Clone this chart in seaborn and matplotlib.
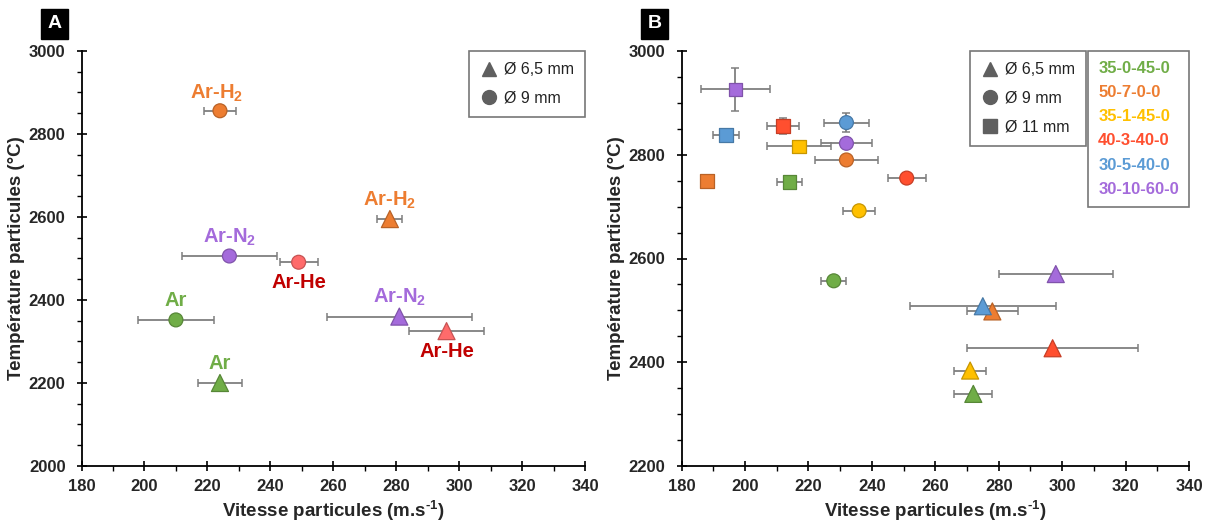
import numpy as np
import pandas as pd
import matplotlib
matplotlib.use("Agg")
import matplotlib.pyplot as plt
from matplotlib.lines import Line2D
from matplotlib.ticker import MultipleLocator
import seaborn as sns

# ---- Panel A : gaz plasmagènes, deux buses
a_gaz = ["Ar", "Ar", "Ar-H2", "Ar-H2", "Ar-N2", "Ar-N2", "Ar-He", "Ar-He"]
a_buse = ["Ø 6,5 mm", "Ø 9 mm"] * 4
a_vitesse = [224, 210, 278, 224, 281, 227, 296, 249]
a_temp = [2200, 2352, 2595, 2856, 2360, 2506, 2325, 2491]
a_err_v = [7, 12, 4, 5, 23, 15, 12, 6]

# étiquettes du panel A (texte, position)
a_labels = ["Ar", "Ar", "Ar-H$_2$", "Ar-H$_2$", "Ar-N$_2$", "Ar-N$_2$", "Ar-He", "Ar-He"]
a_label_x = [224, 210, 278, 223, 281, 227, 296, 249]
a_label_y = [2247, 2398, 2640, 2897, 2406, 2550, 2277, 2443]

# ---- Panel B : poudres, trois buses
poudres = ["35-0-45-0", "50-7-0-0", "35-1-45-0", "40-3-40-0", "30-5-40-0", "30-10-60-0"]
buses_b = ["Ø 6,5 mm", "Ø 9 mm", "Ø 11 mm"]
b_poudre = poudres * 3
b_buse = [b for b in buses_b for _ in poudres]
b_vitesse = [272, 278, 271, 297, 275, 298,
             228, 232, 236, 251, 232, 232,
             214, 188, 217, 212, 194, 197]
b_temp = [2339, 2498, 2384, 2427, 2508, 2570,
          2557, 2790, 2692, 2755, 2862, 2822,
          2747, 2749, 2816, 2855, 2838, 2926]
b_err_v = [6, 8, 5, 27, 23, 18,
           4, 10, 5, 6, 7, 8,
           4, 0, 10, 5, 4, 11]
b_err_t = [0, 0, 0, 0, 0, 0,
           0, 0, 0, 0, 19, 0,
           0, 0, 0, 15, 0, 42]

couleurs_a = {"Ar": "#70AD47", "Ar-H2": "#ED7D31", "Ar-N2": "#A46BDB", "Ar-He": "#FF6B6B"}
couleurs_lab_a = {"Ar": "#70AD47", "Ar-H2": "#ED7D31", "Ar-N2": "#A46BDB", "Ar-He": "#C00000"}
couleurs_b = dict(zip(poudres, ["#70AD47", "#ED7D31", "#FFC000", "#FF4F2F", "#5B9BD5", "#A46BDB"]))
marqueurs = {"Ø 6,5 mm": "^", "Ø 9 mm": "o", "Ø 11 mm": "s"}
tailles = {"Ø 6,5 mm": 150, "Ø 9 mm": 100, "Ø 11 mm": 95}

sns.set_style("ticks")
plt.rcParams["font.family"] = ["Liberation Sans", "DejaVu Sans"]
plt.rcParams["mathtext.fontset"] = "custom"
plt.rcParams["mathtext.rm"] = "Liberation Sans:bold"
plt.rcParams["mathtext.bf"] = "Liberation Sans:bold"
plt.rcParams["mathtext.default"] = "bf"

W, H = 1210, 522
fig = plt.figure(figsize=(W / 100, H / 100), dpi=100)
ax_a = fig.add_axes([81.5 / W, 56 / H, 503.5 / W, 415 / H])
ax_b = fig.add_axes([681.5 / W, 56 / H, 507.5 / W, 415 / H])


def darker(coll):
    fc = np.array(coll.get_facecolors())
    ec = fc.copy()
    ec[:, :3] = ec[:, :3] * 0.78
    coll.set_edgecolors(ec)
    coll.set_linewidth(0.9)


def style_axes(ax, ymin, ymax):
    ax.set_xlim(180, 340)
    ax.set_ylim(ymin, ymax)
    ax.xaxis.set_major_locator(MultipleLocator(20))
    ax.xaxis.set_minor_locator(MultipleLocator(10))
    ax.yaxis.set_major_locator(MultipleLocator(200))
    ax.yaxis.set_minor_locator(MultipleLocator(50))
    for s in ["top", "right"]:
        ax.spines[s].set_visible(False)
    for s in ["left", "bottom"]:
        ax.spines[s].set_linewidth(1.3)
        ax.spines[s].set_color("black")
    ax.tick_params(which="major", direction="inout", length=7, width=1.2, color="black",
                   labelsize=12)
    ax.tick_params(axis="x", which="major", pad=6)
    ax.tick_params(axis="y", which="major", pad=8)
    ax.tick_params(which="minor", direction="out", length=3.5, width=1.0, color="black")
    for lab in ax.get_xticklabels() + ax.get_yticklabels():
        lab.set_fontweight("bold")
    ax.set_xlabel("Vitesse particules (m.s$^{\\text{-1}}$)", fontsize=13.5, fontweight="bold")
    ax.set_ylabel("Température particules (°C)", fontsize=13.5, fontweight="bold")
    ax.xaxis.set_label_coords(0.5, -0.08)
    ax.yaxis.set_label_coords(-0.112, 0.5)


# ---------------- Panel A
df_a = pd.DataFrame({"Vitesse": a_vitesse, "Temp": a_temp, "Gaz": a_gaz, "Buse": a_buse})
ax_a.errorbar(a_vitesse, a_temp, xerr=a_err_v, fmt="none", ecolor="#7f7f7f",
              elinewidth=1.3, capsize=3, capthick=1.1, zorder=2)
sns.scatterplot(data=df_a, x="Vitesse", y="Temp", hue="Gaz", palette=couleurs_a,
                style="Buse", markers=marqueurs, size="Buse", sizes=tailles,
                legend=False, ax=ax_a, zorder=3)
darker(ax_a.collections[-1])
for txt, g, x, y in zip(a_labels, a_gaz, a_label_x, a_label_y):
    ax_a.text(x, y, txt, color=couleurs_lab_a[g], fontsize=14.5, fontweight="bold",
              ha="center", va="center")
style_axes(ax_a, 2000, 3000)

h_a = [Line2D([], [], marker=marqueurs[b], color="#5f5f5f", linestyle="none", markersize=10)
       for b in ["Ø 6,5 mm", "Ø 9 mm"]]
leg_a = ax_a.legend(h_a, ["Ø 6,5 mm", "Ø 9 mm"], loc="upper right", bbox_to_anchor=(1.0, 1.0),
                    fontsize=11.5, frameon=True, fancybox=False, edgecolor="#555555",
                    labelspacing=0.85, handletextpad=0.3, handlelength=1.2, borderpad=0.7,
                    borderaxespad=0)
leg_a.get_frame().set_linewidth(1.2)
for t in leg_a.get_texts():
    t.set_color("#222222")

# ---------------- Panel B
df_b = pd.DataFrame({"Vitesse": b_vitesse, "Temp": b_temp, "Poudre": b_poudre, "Buse": b_buse})
ax_b.errorbar(b_vitesse, b_temp, xerr=b_err_v, yerr=b_err_t, fmt="none", ecolor="#7f7f7f",
              elinewidth=1.3, capsize=3, capthick=1.1, zorder=2)
sns.scatterplot(data=df_b, x="Vitesse", y="Temp", hue="Poudre", palette=couleurs_b,
                style="Buse", markers=marqueurs, size="Buse", sizes=tailles,
                legend=False, ax=ax_b, zorder=3)
darker(ax_b.collections[-1])
style_axes(ax_b, 2200, 3000)

h_b = [Line2D([], [], marker=marqueurs[b], color="#5f5f5f", linestyle="none", markersize=10)
       for b in buses_b]
leg_b = ax_b.legend(h_b, buses_b, loc="upper right", bbox_to_anchor=(0.797, 1.0),
                    fontsize=11.5, frameon=True, fancybox=False, edgecolor="#555555",
                    labelspacing=0.85, handletextpad=0.3, handlelength=1.2, borderpad=0.7,
                    borderaxespad=0)
leg_b.get_frame().set_linewidth(1.2)
for t in leg_b.get_texts():
    t.set_color("#222222")
ax_b.add_artist(leg_b)

h_c = [Line2D([], [], linestyle="none") for _ in poudres]
leg_c = ax_b.legend(h_c, poudres, loc="upper right", bbox_to_anchor=(1.0, 1.0),
                    fontsize=12, frameon=True, fancybox=False, edgecolor="#555555",
                    labelspacing=0.55, handletextpad=0, handlelength=0, borderpad=0.6,
                    borderaxespad=0, labelcolor=[couleurs_b[p] for p in poudres])
leg_c.get_frame().set_linewidth(1.2)
for t in leg_c.get_texts():
    t.set_fontweight("bold")

# ---- lettres des panneaux
for xf, lettre in [(54.5 / W, "A"), (654.5 / W, "B")]:
    fig.text(xf, 1 - 24 / H, lettre, color="white", fontsize=14, fontweight="bold",
             ha="center", va="center",
             bbox=dict(boxstyle="square,pad=0.32", facecolor="black", edgecolor="black"))

fig.savefig("out.png", dpi=100)
